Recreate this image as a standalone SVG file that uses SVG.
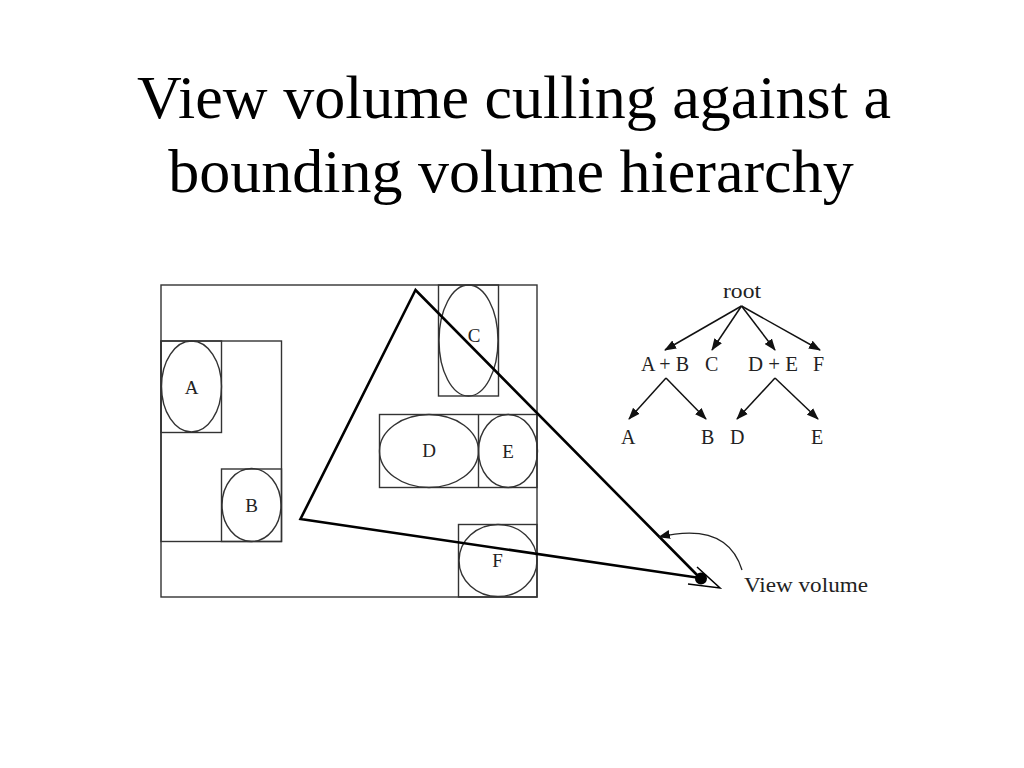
<svg xmlns="http://www.w3.org/2000/svg" width="1024" height="768" viewBox="0 0 1024 768">
<style>
.title{font-family:"Liberation Serif",serif;font-size:62px;fill:#000;text-anchor:middle}
.box{fill:none;stroke:#333;stroke-width:1.4}
.lbl{font-family:"Liberation Serif",serif;font-size:19px;fill:#222;text-anchor:middle}
.tl{font-family:"Liberation Serif",serif;font-size:20px;fill:#222}
.edge{stroke:#111;stroke-width:1.5;fill:none;marker-end:url(#ah)}
.tri{fill:none;stroke:#000;stroke-width:2.6;stroke-linejoin:miter}
</style>
<defs>
<marker id="ah" viewBox="0 0 12 10" refX="11" refY="5" markerWidth="12" markerHeight="10" markerUnits="userSpaceOnUse" orient="auto">
<path d="M0,0.5 L12,5 L0,9.5 z" fill="#111"/>
</marker>
</defs>
<rect width="1024" height="768" fill="#fff"/>
<g id="title">
<text class="title" x="514" y="118">View volume culling against a</text>
<text class="title" x="511" y="192">bounding volume hierarchy</text>
</g>
<g id="scene">
<rect class="box" x="161" y="285" width="376" height="312"/>
<rect class="box" x="161" y="341" width="120.5" height="200.5"/>
</g>
<g id="nodeA">
<rect class="box" x="161" y="341" width="60.5" height="91.5"/>
<ellipse class="box" cx="191.5" cy="386.5" rx="30" ry="45.5"/>
<text class="lbl" x="191.5" y="394">A</text>
</g>
<g id="nodeB">
<rect class="box" x="221.5" y="469" width="60" height="72.5"/>
<ellipse class="box" cx="251.5" cy="505" rx="29.5" ry="36.5"/>
<text class="lbl" x="251.5" y="512">B</text>
</g>
<g id="nodeC">
<rect class="box" x="438.5" y="285" width="60" height="111"/>
<ellipse class="box" cx="468.5" cy="340.5" rx="29.5" ry="55.5"/>
<text class="lbl" x="474" y="342">C</text>
</g>
<g id="nodeDE">
<rect class="box" x="379.5" y="414.5" width="157.5" height="73"/>
<line class="box" x1="478.5" y1="414.5" x2="478.5" y2="487.5"/>
</g>
<g id="nodeD">
<ellipse class="box" cx="429" cy="451" rx="49.5" ry="36.5"/>
<text class="lbl" x="429" y="457">D</text>
</g>
<g id="nodeE">
<ellipse class="box" cx="508" cy="451" rx="29.5" ry="36.5"/>
<text class="lbl" x="508" y="458">E</text>
</g>
<g id="nodeF">
<rect class="box" x="458.5" y="524.5" width="78.5" height="72.5"/>
<ellipse class="box" cx="498" cy="560.5" rx="39" ry="36"/>
<text class="lbl" x="497.5" y="567">F</text>
</g>
<g id="viewvolume">
<polygon class="tri" points="415.5,290 300.5,519 700,578"/>
<circle cx="701" cy="578.5" r="6" fill="#000"/>
<polyline points="697,567 720,588 688,584" fill="none" stroke="#000" stroke-width="1.5"/>
<path d="M742,570 Q727,521 659,537" fill="none" stroke="#222" stroke-width="1.3" marker-end="url(#ah)"/>
<text class="tl" x="744" y="592" style="font-size:21px" textLength="124" lengthAdjust="spacingAndGlyphs">View volume</text>
</g>
<g id="tree-labels">
<text class="tl" x="723" y="298" textLength="38" lengthAdjust="spacingAndGlyphs">root</text>
<text class="tl" x="641" y="371" textLength="48" lengthAdjust="spacingAndGlyphs">A + B</text>
<text class="tl" x="705" y="371">C</text>
<text class="tl" x="748" y="371" textLength="50" lengthAdjust="spacingAndGlyphs">D + E</text>
<text class="tl" x="813" y="371">F</text>
<text class="tl" x="621" y="444">A</text>
<text class="tl" x="701" y="444">B</text>
<text class="tl" x="730" y="444">D</text>
<text class="tl" x="811" y="444">E</text>
</g>
<g id="connectors">
<line class="edge" x1="741.5" y1="306" x2="665" y2="350"/>
<line class="edge" x1="741.5" y1="306" x2="712" y2="350"/>
<line class="edge" x1="741.5" y1="306" x2="775" y2="350"/>
<line class="edge" x1="741.5" y1="306" x2="820" y2="350"/>
<line class="edge" x1="666" y1="378" x2="629" y2="419"/>
<line class="edge" x1="666" y1="378" x2="706" y2="419"/>
<line class="edge" x1="775" y1="378" x2="737" y2="419"/>
<line class="edge" x1="775" y1="378" x2="818" y2="419"/>
</g>
</svg>
